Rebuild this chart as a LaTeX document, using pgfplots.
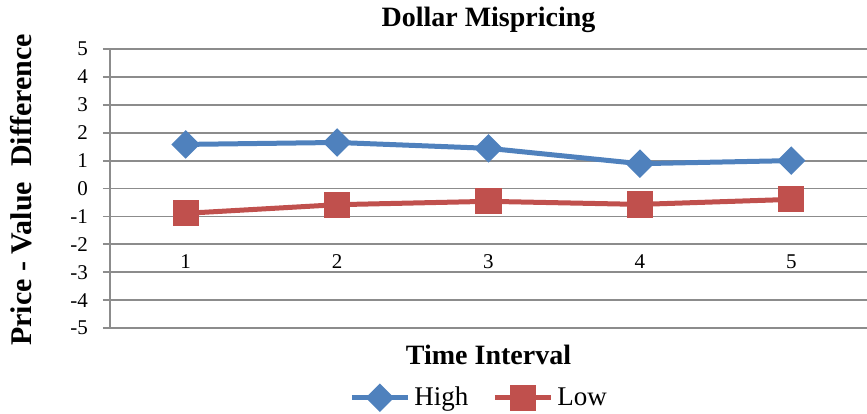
\documentclass[border=0pt]{standalone}
\usepackage{fontspec}
\setmainfont{Liberation Serif}
\usepackage{pgfplots}
\pgfplotsset{compat=1.18}

\definecolor{highblue}{HTML}{4F81BD}
\definecolor{lowred}{HTML}{C0504D}
\definecolor{gridgray}{HTML}{8C8C8C}

\begin{document}
\begin{tikzpicture}
\path[use as bounding box] (-55pt,-42.5pt) rectangle (378.5pt,164pt);
\begin{axis}[
    at={(0pt,0pt)}, anchor=south west,
    scale only axis,
    width=378.5pt, height=139.5pt,
    xmin=0.5, xmax=5.5,
    ymin=-5, ymax=5,
    axis y line=left,
    axis x line=middle,
    axis line style={-, gridgray, line width=0.9pt},
    ytick={-5,...,5},
    yticklabels={-5,-4,-3,-2,-1,0,1,2,3,4,5},
    ymajorgrids,
    major grid style={gridgray, line width=0.9pt},
    ytick style={gridgray, line width=0.9pt},
    y tick label style={font=\fontsize{10.5}{12}\selectfont, xshift=-4pt},
    ytick align=outside,
    major tick length=3.5pt,
    xtick={1,2,3,4,5},
    xticklabels={1,2,3,4,5},
    x tick label style={font=\fontsize{10.5}{12}\selectfont, yshift=-28pt},
    x tick style={draw=none},
    extra x ticks={1.5,2.5,3.5,4.5},
    extra x tick labels={},
    extra x tick style={tick style={gridgray, line width=0.9pt, draw=gridgray}, major tick length=3pt, tick align=outside},
    title={\textbf{Dollar Mispricing}},
    title style={font=\fontsize{14}{16}\selectfont, at={(axis description cs:0.5,1)}, anchor=center, yshift=8.5pt},
    xlabel={\textbf{Time Interval}},
    xlabel style={font=\fontsize{14}{16}\selectfont, at={(axis description cs:0.5,0)}, anchor=center, yshift=-13.5pt},
    ylabel={\textbf{Price - Value\ \ Difference}},
    ylabel style={font=\fontsize{15}{17}\selectfont, at={(axis description cs:-0.117,0.495)}, anchor=center},
    legend style={draw=none, fill=none, font=\fontsize{13.5}{15}\selectfont,
        at={(axis description cs:0.489,-0.25)}, anchor=center,
        /tikz/every even column/.append style={column sep=10pt}},
    legend columns=2,
    legend image code/.code={
        \draw[#1, mark repeat=2, mark phase=2] plot coordinates {(0pt,0pt) (14pt,0pt) (28pt,0pt)};
    },
    clip=false,
]
\addplot[highblue, line width=2.5pt, mark=square*, mark size=3.8pt, mark options={solid, rotate=45}]
    coordinates {(1,1.58) (2,1.65) (3,1.44) (4,0.89) (5,1.00)};
\addlegendentry{High}
\addplot[lowred, line width=2.5pt, mark=square*, mark size=5.3pt, mark options={solid}]
    coordinates {(1,-0.89) (2,-0.58) (3,-0.46) (4,-0.57) (5,-0.39)};
\addlegendentry{Low}
\end{axis}
\end{tikzpicture}
\end{document}
